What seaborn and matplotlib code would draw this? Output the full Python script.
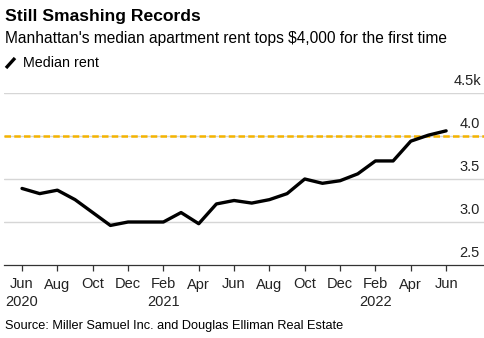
import matplotlib
matplotlib.use("Agg")
import matplotlib.pyplot as plt
import matplotlib.transforms as mtransforms
import seaborn as sns
import pandas as pd

months = ["Jun 2020", "Jul 2020", "Aug 2020", "Sep 2020", "Oct 2020", "Nov 2020",
          "Dec 2020", "Jan 2021", "Feb 2021", "Mar 2021", "Apr 2021", "May 2021",
          "Jun 2021", "Jul 2021", "Aug 2021", "Sep 2021", "Oct 2021", "Nov 2021",
          "Dec 2021", "Jan 2022", "Feb 2022", "Mar 2022", "Apr 2022", "May 2022",
          "Jun 2022"]
median_rent = [3.39, 3.33, 3.37, 3.26, 3.11, 2.96, 3.00, 3.00, 3.00, 3.11, 2.98,
               3.21, 3.25, 3.22, 3.26, 3.33, 3.50, 3.45, 3.48, 3.56, 3.71, 3.71,
               3.94, 4.01, 4.06]
xtick_labels = ["Jun\n2020", "Aug", "Oct", "Dec", "Feb\n2021", "Apr", "Jun",
                "Aug", "Oct", "Dec", "Feb\n2022", "Apr", "Jun"]
ytick_values = [2.5, 3.0, 3.5, 4.0, 4.5]
ytick_labels = ["2.5", "3.0", "3.5", "4.0", "4.5k"]
threshold = 4.0

sns.set_style("white")
plt.rcParams["font.family"] = ["Liberation Sans", "DejaVu Sans"]

df = pd.DataFrame({"idx": range(len(months)), "rent": median_rent, "month": months})

W, H = 485, 338
fig = plt.figure(figsize=(W / 100, H / 100), dpi=100)
ax = fig.add_axes([4 / W, 1 - 265 / H, (W - 4) / W, (265 - 93) / H])

for v in ytick_values[1:]:
    ax.axhline(v, color="#d6d6d6", lw=1.0, zorder=0)
ax.axhline(threshold, color="#f5b400", lw=1.8, ls=(0, (2.6, 1.3)), zorder=1)

sns.lineplot(data=df, x="idx", y="rent", color="black", lw=2.4, ax=ax,
             label="Median rent", legend=False, zorder=3)

ax.set_xlim(-1.02, 26.2)
ax.set_ylim(2.5, 4.5)
ax.set_xlabel("")
ax.set_ylabel("")

ax.set_xticks(list(range(0, len(months), 2)))
ax.set_xticklabels(xtick_labels, fontsize=10.5, color="#222222", linespacing=1.32,
                   va="top")
ax.tick_params(axis="x", direction="out", length=4, width=0.9, color="#333333",
               pad=5, bottom=True)

ax.set_yticks(ytick_values)
ax.set_yticklabels(ytick_labels, fontsize=10.5, color="#222222")
ax.yaxis.tick_right()
ax.tick_params(axis="y", length=0, pad=-18.5)
for lbl in ax.get_yticklabels():
    lbl.set_horizontalalignment("left")
    lbl.set_verticalalignment("center")
    dx = -6 / 100 if lbl.get_text().endswith("k") else 0
    lbl.set_transform(lbl.get_transform() +
                      mtransforms.ScaledTranslation(dx, 12 / 100, fig.dpi_scale_trans))

for s in ["top", "right", "left"]:
    ax.spines[s].set_visible(False)
ax.spines["bottom"].set_color("#333333")
ax.spines["bottom"].set_linewidth(0.9)

fig.text(5 / W, 1 - 17 / H, "Still Smashing Records", fontsize=12.6,
         fontweight="bold", va="center", ha="left", color="black")
fig.text(5 / W, 1 - 39 / H, "Manhattan's median apartment rent tops $4,000 for the first time",
         fontsize=11.2, va="center", ha="left", color="black")
fig.lines.append(plt.Line2D([6 / W, 15 / W], [1 - 68 / H, 1 - 58 / H],
                            transform=fig.transFigure, color="black", lw=2.4,
                            solid_capstyle="butt"))
fig.text(23 / W, 1 - 63 / H, "Median rent", fontsize=10.3, va="center", ha="left",
         color="black")
fig.text(5 / W, 1 - 326 / H, "Source: Miller Samuel Inc. and Douglas Elliman Real Estate",
         fontsize=9.2, va="center", ha="left", color="black")

fig.savefig("out.png", dpi=100, facecolor="white")
